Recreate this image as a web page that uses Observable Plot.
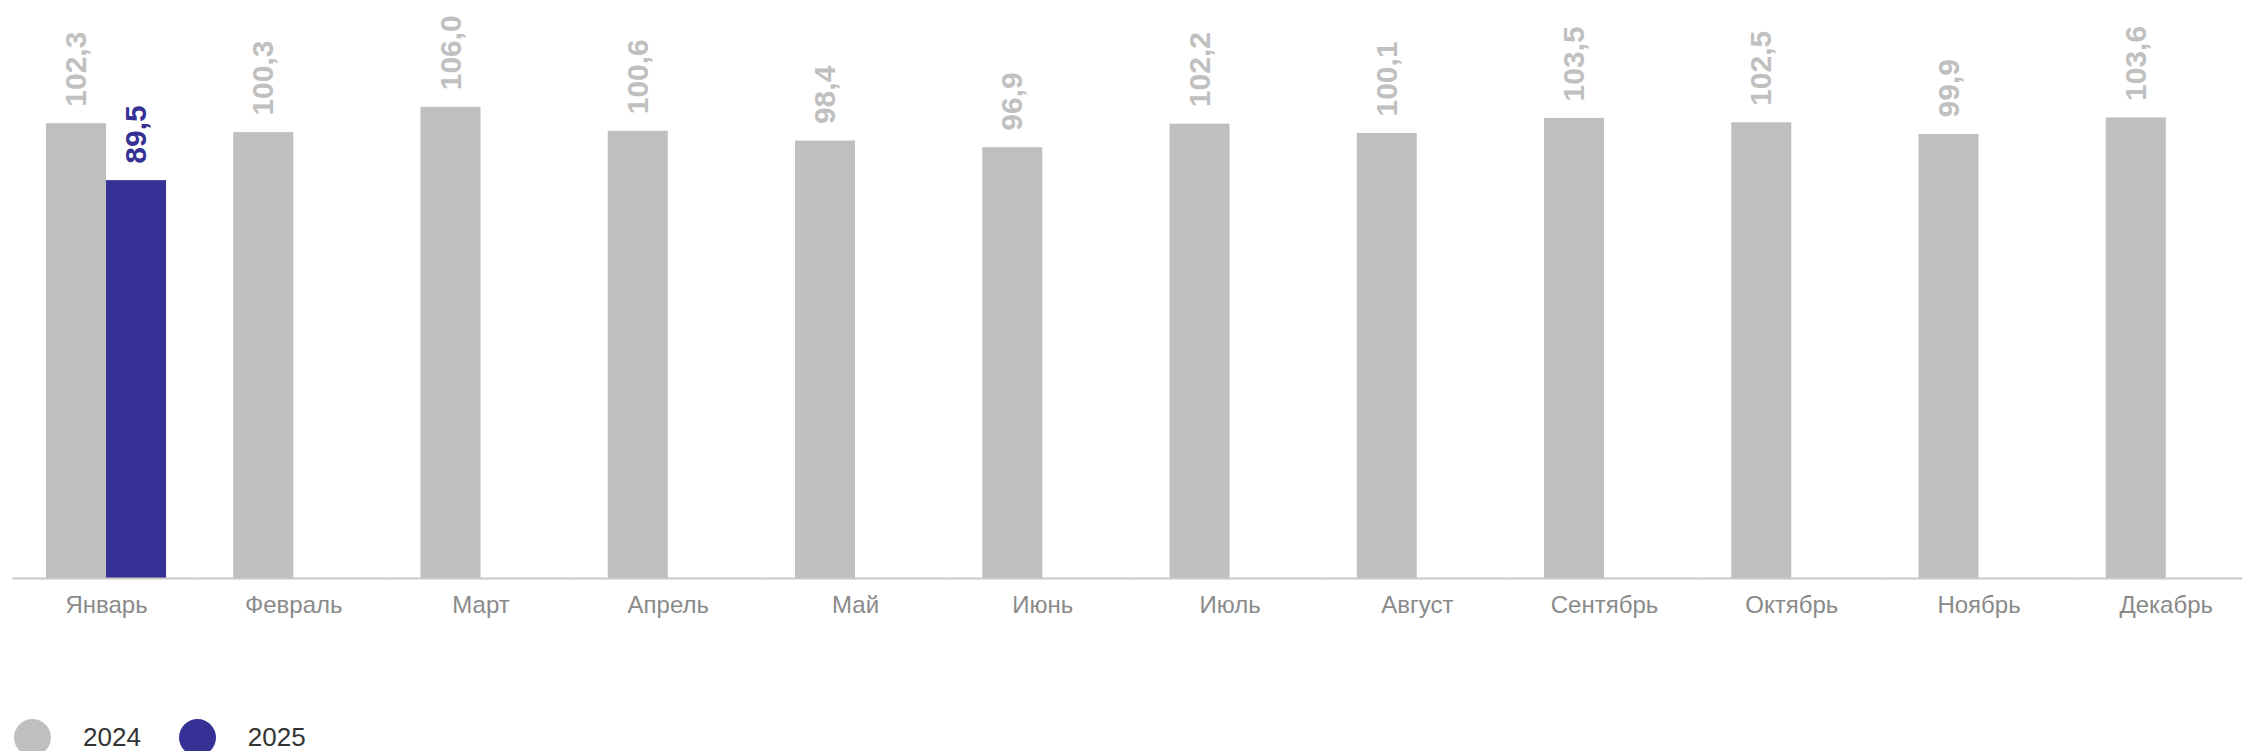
<!DOCTYPE html>
<html>
<head>
<meta charset="utf-8">
<script src="https://cdn.jsdelivr.net/npm/d3@7"></script>
<script src="https://cdn.jsdelivr.net/npm/@observablehq/plot@0.6"></script>
<style>
  html, body { margin: 0; padding: 0; background: #fff; }
  body { width: 2242px; font-family: "Liberation Sans", Arial, sans-serif; }
  #legend { display: flex; align-items: center; height: 37px; margin-top: 81px; padding-left: 14px; font-size: 26px; color: #333; }
  .item { display: flex; align-items: center; }
  .sw { width: 37px; height: 37px; border-radius: 50%; }
  .lab { margin-left: 32px; margin-right: 38px; }
</style>
</head>
<body>
<div id="chart"></div>
<div id="legend"></div>
<script>
const months = ["Январь","Февраль","Март","Апрель","Май","Июнь","Июль","Август","Сентябрь","Октябрь","Ноябрь","Декабрь"];
const years = ["2024","2025"];
const values2024 = [102.3, 100.3, 106.0, 100.6, 98.4, 96.9, 102.2, 100.1, 103.5, 102.5, 99.9, 103.6];
const values2025 = [89.5];
const colors = ["#bfbfbf", "#363195"];

const data = [];
months.forEach((m, i) => {
  if (values2024[i] != null) data.push({month: m, year: "2024", value: values2024[i]});
  if (values2025[i] != null) data.push({month: m, year: "2025", value: values2025[i]});
});
const fmt = v => d3.format(".1f")(v).replace(".", ",");

const plot = Plot.plot({
  width: 2242,
  height: 638,
  marginLeft: 12.4,
  marginRight: -17.4,
  marginTop: 89,
  marginBottom: 60,
  style: {fontFamily: "'Liberation Sans', Arial, sans-serif", fontSize: "24px", color: "#8a8a8a", background: "#fff", overflow: "visible"},
  fx: {domain: months, padding: 0, round: false, label: null, axis: "bottom", tickSize: 0, tickPadding: 17},
  x: {domain: years, axis: null, paddingInner: 0, paddingOuter: 0.56, round: false},
  y: {domain: [0, 110], axis: null},
  color: {domain: years, range: colors},
  marks: [
    Plot.barY(data, {fx: "month", x: "year", y: "value", fill: "year"}),
    Plot.ruleY([0], {stroke: "#c8c8c8", strokeWidth: 2}),
    Plot.text(data, {fx: "month", x: "year", y: "value", text: d => fmt(d.value), rotate: -90, textAnchor: "start", dy: -17, fontSize: 30, fontWeight: "bold", fill: d => d.year === "2024" ? "#c0c0c0" : "#363195"})
  ]
});
document.getElementById("chart").appendChild(plot);

const legend = document.getElementById("legend");
years.forEach((y, i) => {
  const it = document.createElement("div");
  it.className = "item";
  it.innerHTML = `<div class="sw" style="background:${colors[i]}"></div><span class="lab">${y}</span>`;
  legend.appendChild(it);
});
</script>
</body>
</html>
